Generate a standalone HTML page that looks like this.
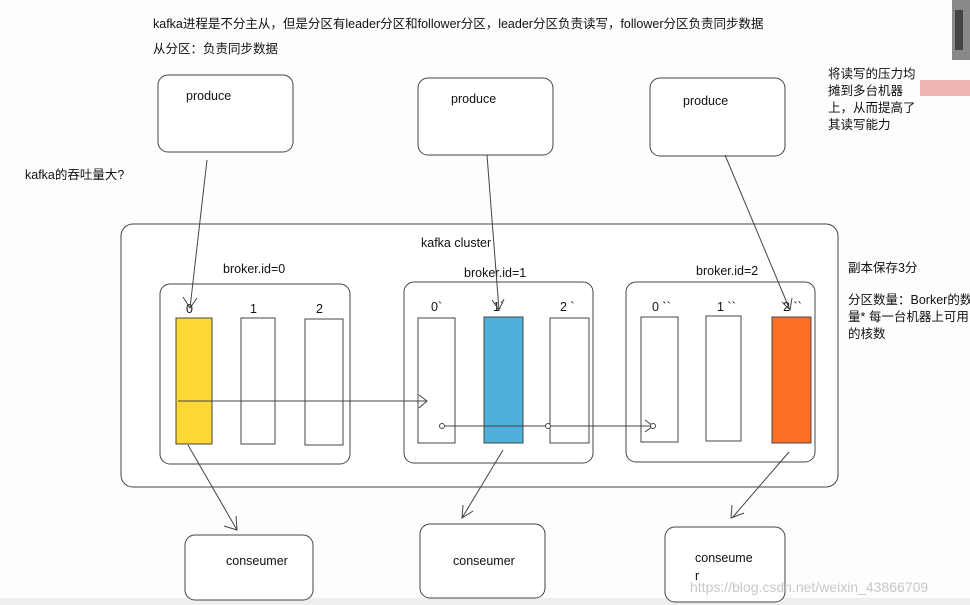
<!DOCTYPE html>
<html><head><meta charset="utf-8"><style>
html,body{margin:0;padding:0;background:#fdfdfc;}
svg{display:block;}
text{font-family:"Liberation Sans","Noto Sans CJK SC",sans-serif;fill:#111;}
</style></head><body>
<svg width="970" height="605" viewBox="0 0 970 605" xmlns="http://www.w3.org/2000/svg">
<rect width="970" height="605" fill="#fdfdfc"/>
<rect x="0" y="598" width="970" height="7" fill="#eeeeee"/>
<!-- top-right pixel artifacts -->
<rect x="952" y="0" width="18" height="60" fill="#888"/>
<rect x="955" y="10" width="8" height="40" fill="#444"/>
<rect x="920" y="80" width="50" height="16" fill="#f0b5b0"/>
<g font-size="12.5">
<text x="153" y="28">kafka进程是不分主从，但是分区有leader分区和follower分区，leader分区负责读写，follower分区负责同步数据</text>
<text x="153" y="53">从分区：负责同步数据</text>
<text x="25" y="179">kafka的吞吐量大?</text>
<text x="828" y="78">将读写的压力均</text>
<text x="828" y="95">摊到多台机器</text>
<text x="828" y="112">上，从而提高了</text>
<text x="828" y="129">其读写能力</text>
<text x="848" y="272">副本保存3分</text>
<text x="848" y="304">分区数量：Borker的数</text>
<text x="848" y="321">量* 每一台机器上可用</text>
<text x="848" y="338">的核数</text>
</g>
<g fill="#fff" stroke="#444" stroke-width="1">
<rect x="158" y="75" width="135" height="77" rx="10"/>
<rect x="418" y="78" width="135" height="77" rx="10"/>
<rect x="650" y="78" width="135" height="78" rx="10"/>
<rect x="121" y="224" width="717" height="263" rx="12"/>
<rect x="160" y="284" width="190" height="180" rx="10"/>
<rect x="404" y="282" width="189" height="181" rx="10"/>
<rect x="626" y="282" width="189" height="180" rx="10"/>
<rect x="185" y="535" width="128" height="65" rx="10"/>
<rect x="420" y="524" width="125" height="74" rx="10"/>
<rect x="665" y="527" width="120" height="75" rx="10"/>
<rect x="176" y="318" width="36" height="126" fill="#fdd835"/>
<rect x="241" y="318" width="34" height="126"/>
<rect x="305" y="319" width="38" height="126"/>
<rect x="418" y="318" width="37" height="125"/>
<rect x="484" y="317" width="39" height="126" fill="#4fb0dc"/>
<rect x="550" y="318" width="39" height="125"/>
<rect x="641" y="317" width="37" height="125"/>
<rect x="706" y="316" width="35" height="125"/>
<rect x="772" y="317" width="39" height="126" fill="#fb6f27"/>
</g>
<g font-size="12.5">
<text x="186" y="100">produce</text>
<text x="451" y="103">produce</text>
<text x="683" y="105">produce</text>
<text x="421" y="247">kafka cluster</text>
<text x="223" y="273">broker.id=0</text>
<text x="464" y="277">broker.id=1</text>
<text x="696" y="275">broker.id=2</text>
<text x="186" y="313">0</text><text x="250" y="313">1</text><text x="316" y="313">2</text>
<text x="431" y="311">0`</text><text x="493" y="311">1`</text><text x="560" y="311">2 `</text>
<text x="652" y="311">0 ``</text><text x="717" y="311">1 ``</text><text x="783" y="311">2 ``</text>
<text x="226" y="565">conseumer</text>
<text x="453" y="565">conseumer</text>
<text x="695" y="562">conseume</text>
<text x="695" y="580">r</text>
</g>
<g stroke="#444" stroke-width="1" fill="none">
<path d="M207 160 L190 308 M183 297 L190 308 L197 298"/>
<path d="M487 155 L499 310 M492 300 L499 310 L504 299"/>
<path d="M725 155 L790 310 M782 302 L790 310 L792 298"/>
<path d="M178 401 L427 401 M419 395 L427 401 L419 408"/>
<path d="M442 426 L653 426 M645 420 L653 426 L645 432"/>
<path d="M188 445 L237 530 M224 526 L237 530 L236 516"/>
<path d="M503 450 L462 518 M463 505 L462 518 L473 511"/>
<path d="M789 452 L732 518 M732 505 L731 518 L744 513"/>
</g>
<g fill="#fff" stroke="#444" stroke-width="1">
<circle cx="442" cy="426" r="2.5"/><circle cx="548" cy="426" r="2.5"/><circle cx="653" cy="426" r="2.5"/>
</g>
<text x="690" y="592" font-size="14" style="fill:#c8c8c8">https://blog.csdn.net/weixin_43866709</text>
</svg>
</body></html>
